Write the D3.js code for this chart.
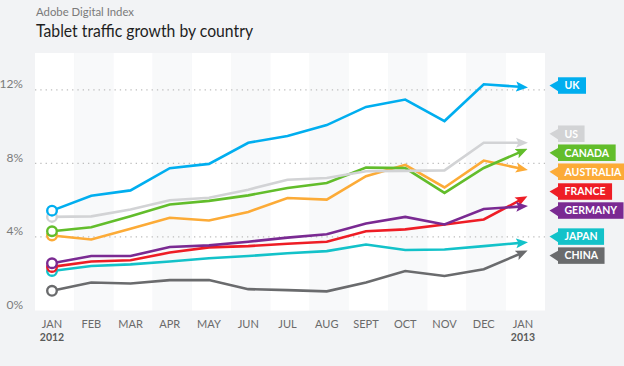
<!DOCTYPE html>
<html>
<head>
<meta charset="utf-8">
<script src="https://cdn.jsdelivr.net/npm/d3@7"></script>
<style>
  html, body { margin: 0; padding: 0; background: #f2f3f5; }
  svg { display: block; }
</style>
</head>
<body>
<svg id="chart" width="624" height="366"></svg>
<script>
// ---- data ----
const months = ["JAN","FEB","MAR","APR","MAY","JUN","JUL","AUG","SEPT","OCT","NOV","DEC","JAN"];
const yearLabels = ["2012","","","","","","","","","","","","2013"];
const yTicks = [0, 4, 8, 12];
const countries = ["UK","US","CANADA","AUSTRALIA","FRANCE","GERMANY","JAPAN","CHINA"];
const uk        = [5.43, 6.24, 6.53, 7.74, 7.97, 9.12, 9.49, 10.08, 11.07, 11.47, 10.30, 12.30, 12.15];
const us        = [5.09, 5.12, 5.49, 5.99, 6.13, 6.57, 7.11, 7.20, 7.57, 7.59, 7.62, 9.12, 9.12];
const canada    = [4.31, 4.53, 5.12, 5.76, 5.96, 6.26, 6.66, 6.93, 7.77, 7.74, 6.39, 7.75, 8.68];
const australia = [4.08, 3.86, 4.44, 5.04, 4.89, 5.36, 6.12, 6.03, 7.30, 7.92, 6.69, 8.15, 7.69];
const france    = [2.37, 2.66, 2.73, 3.15, 3.43, 3.50, 3.63, 3.74, 4.31, 4.41, 4.68, 4.95, 6.08];
const germany   = [2.57, 2.96, 2.96, 3.45, 3.54, 3.74, 3.96, 4.15, 4.73, 5.09, 4.68, 5.52, 5.66];
const japan     = [2.15, 2.42, 2.51, 2.66, 2.84, 2.96, 3.11, 3.23, 3.59, 3.29, 3.32, 3.50, 3.69];
const china     = [1.07, 1.52, 1.47, 1.65, 1.66, 1.16, 1.11, 1.04, 1.52, 2.15, 1.88, 2.24, 3.15];
const seriesValues = [uk, us, canada, australia, france, germany, japan, china];
const colors = ["#00aeef","#d2d3d5","#62bd2b","#fcab37","#ee1d25","#7a2a92","#13c2c9","#6a6b6d"];

// ---- layout ----
const svg = d3.select("#chart");
const plotLeft = 35, plotRight = 545, plotTop = 53, plotBottom = 310.5;
const x = d3.scalePoint().domain(d3.range(months.length)).range([52, 523]);
const y = d3.scaleLinear().domain([0, 14]).range([plotBottom, plotTop]);
const band = d3.scaleBand().domain(d3.range(months.length)).range([plotLeft, plotRight]);

// title
svg.append("text").attr("x", 36).attr("y", 16)
  .attr("font-family", "Lato, 'Open Sans', sans-serif").attr("font-size", 12)
  .attr("textLength", 98).attr("lengthAdjust", "spacingAndGlyphs")
  .attr("fill", "#7a7a7a").text("Adobe Digital Index");
svg.append("text").attr("x", 36).attr("y", 37)
  .attr("font-family", "Lato, 'Open Sans', sans-serif").attr("font-size", 17.5)
  .attr("textLength", 217).attr("lengthAdjust", "spacingAndGlyphs")
  .attr("fill", "#1e1e1e").text("Tablet traffic growth by country");

// bands
svg.append("g").selectAll("rect").data(d3.range(months.length)).join("rect")
  .attr("x", d => band(d)).attr("width", band.bandwidth())
  .attr("y", plotTop).attr("height", plotBottom - plotTop)
  .attr("fill", d => d % 2 === 0 ? "#ffffff" : "#f8f9fa");

// grid
svg.append("g").selectAll("line").data(yTicks.filter(d => d > 0)).join("line")
  .attr("x1", plotLeft).attr("x2", plotRight)
  .attr("y1", d => y(d)).attr("y2", d => y(d))
  .attr("stroke", "#bdbdbd").attr("stroke-width", 1.2)
  .attr("stroke-dasharray", "1.3,4");

// y tick labels
svg.append("g").selectAll("text").data(yTicks).join("text")
  .attr("x", 23).attr("y", d => y(d) - 1.5)
  .attr("text-anchor", "end")
  .attr("font-family", "Lato, 'Open Sans', sans-serif").attr("font-size", 12)
  .attr("fill", "#7b7b7b").text(d => d + "%");

// x axis labels
const xg = svg.append("g");
xg.selectAll("text.m").data(months).join("text").attr("class", "m")
  .attr("x", (d, i) => x(i)).attr("y", 328)
  .attr("text-anchor", "middle")
  .attr("font-family", "Lato, 'Open Sans', sans-serif").attr("font-size", 11)
  .attr("fill", "#6a6a6a").text(d => d);
xg.selectAll("text.yr").data(yearLabels).join("text").attr("class", "yr")
  .attr("x", (d, i) => x(i)).attr("y", 341)
  .attr("text-anchor", "middle")
  .attr("font-family", "Lato, 'Open Sans', sans-serif").attr("font-size", 10.5)
  .attr("font-weight", "bold")
  .attr("fill", "#5a5a5a").text(d => d);

// markers
const defs = svg.append("defs");
colors.forEach((c, i) => {
  defs.append("marker").attr("id", "arr" + i)
    .attr("viewBox", "0 -6 12 12").attr("refX", 7).attr("refY", 0)
    .attr("markerUnits", "userSpaceOnUse")
    .attr("markerWidth", 12).attr("markerHeight", 12)
    .attr("orient", "auto")
    .append("path").attr("d", "M0,-5 L12,0 L0,5 L2.5,0 Z").attr("fill", c);
});

// lines (draw back-to-front)
const line = d3.line().x((d, i) => x(i)).y(d => y(d));
const order = [7, 6, 4, 5, 3, 2, 1, 0];
const lg = svg.append("g");
order.forEach(k => {
  lg.append("path").datum(seriesValues[k])
    .attr("d", line).attr("fill", "none")
    .attr("stroke", colors[k]).attr("stroke-width", 2.6)
    .attr("stroke-linejoin", "miter")
    .attr("marker-end", `url(#arr${k})`);
});
order.forEach(k => {
  lg.append("circle").attr("cx", x(0)).attr("cy", y(seriesValues[k][0])).attr("r", 4.8)
    .attr("fill", "#fff").attr("stroke", colors[k]).attr("stroke-width", 2.4);
});

// legend tags: de-overlap label positions from end values
const gap = 19;
let tags = countries.map((n, i) => ({ n, i, target: y(seriesValues[i][months.length - 1]) - 1.5 }));
tags.sort((a, b) => a.target - b.target);
let clusters = tags.map(t => ({ items: [t], mean: t.target }));
let changed = true;
while (changed) {
  changed = false;
  for (let j = 0; j < clusters.length - 1; j++) {
    const a = clusters[j], b = clusters[j + 1];
    const aEnd = a.mean + (a.items.length - 1) * gap / 2;
    const bStart = b.mean - (b.items.length - 1) * gap / 2;
    if (bStart - aEnd < gap) {
      const items = a.items.concat(b.items);
      const mean = d3.mean(items, t => t.target);
      clusters.splice(j, 2, { items, mean });
      changed = true; break;
    }
  }
}
clusters.forEach(c => {
  c.items.forEach((t, k) => { t.cy = c.mean + (k - (c.items.length - 1) / 2) * gap; });
});

const tagG = svg.append("g");
const boxLeft = 558, tagH = 16.5, tipX = 549.5;
tags.forEach(t => {
  const g = tagG.append("g");
  const txt = g.append("text").attr("x", boxLeft + 6.5).attr("y", t.cy + 3.8)
    .attr("font-family", "Lato, 'Open Sans', sans-serif").attr("font-size", 10.5)
    .attr("font-weight", "bold").attr("fill", "#fff").text(t.n);
  const w = txt.node().getComputedTextLength() + 13;
  g.insert("rect", "text").attr("x", boxLeft).attr("y", t.cy - tagH / 2)
    .attr("width", w).attr("height", tagH).attr("fill", colors[t.i]);
  g.insert("path", "text")
    .attr("d", `M${boxLeft + 0.5},${t.cy - 5} L${tipX},${t.cy} L${boxLeft + 0.5},${t.cy + 6} Z`)
    .attr("fill", colors[t.i]);
});
</script>
</body>
</html>
